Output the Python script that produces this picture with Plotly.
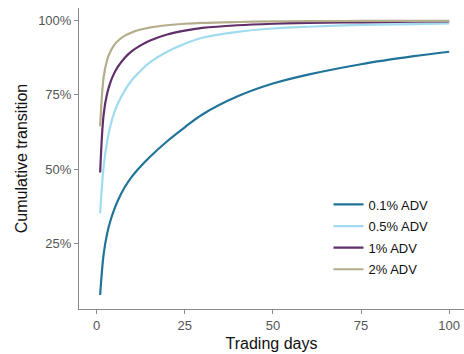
import plotly.graph_objects as go

days = [1, 2, 3, 4, 5, 6, 8, 10, 12, 15, 20, 25, 30, 40, 50, 60, 75, 90, 100]
adv_01 = [7.7, 21.5, 28.5, 33, 36.5, 39.4, 44, 47.5, 50.3, 54, 59.4, 64.1, 68.4, 74.5, 78.8, 81.8, 85.3, 88, 89.5]
adv_05 = [35.2, 51, 59.5, 65, 69, 72, 76.5, 80, 82.5, 85.8, 89.5, 92.2, 94.2, 96.2, 97.3, 97.9, 98.5, 98.8, 99.0]
adv_1 = [48.9, 68.5, 75.5, 79.5, 82.3, 84.4, 87.5, 89.7, 91.3, 93.2, 95.3, 96.6, 97.5, 98.4, 98.9, 99.2, 99.4, 99.6, 99.7]
adv_2 = [64.4, 81, 86.8, 89.8, 91.8, 93.1, 94.9, 96, 96.8, 97.6, 98.4, 98.9, 99.2, 99.5, 99.7, 99.8, 99.85, 99.9, 99.9]

series_names = ["0.1% ADV", "0.5% ADV", "1% ADV", "2% ADV"]
series_values = [adv_01, adv_05, adv_1, adv_2]
colors = ["#21739a", "#a0dbef", "#602e68", "#b4ad8c"]

x_ticks = [0, 25, 50, 75, 100]
y_ticks = [25, 50, 75, 100]
y_tick_labels = ["25%", "50%", "75%", "100%"]

fig = go.Figure()
for name, vals, col in zip(series_names, series_values, colors):
    fig.add_trace(go.Scatter(
        x=days, y=vals, name=name, mode="lines", legendgroup=name,
        line=dict(color=col, width=2.2, shape="spline", smoothing=1.0),
    ))

axis_color = "#8a8a8a"
tick_font = dict(family="Liberation Sans, Arial, sans-serif", size=13, color="#555555")
fig.update_layout(
    width=464, height=354,
    margin=dict(l=79, r=0, t=8, b=45),
    paper_bgcolor="white", plot_bgcolor="white",
    font=dict(family="Liberation Sans, Arial, sans-serif"),
    showlegend=True,
    legend=dict(
        x=0.648, y=0.397, xanchor="left", yanchor="top",
        font=dict(size=13, color="#111111"),
        bgcolor="rgba(0,0,0,0)", tracegroupgap=1.7, itemwidth=30,
    ),
    xaxis=dict(
        range=[-5, 104.2], tickvals=x_ticks, showgrid=False, zeroline=False,
        showline=True, linecolor=axis_color, linewidth=1,
        ticks="outside", ticklen=4, tickcolor=axis_color, tickfont=tick_font,
        title=dict(text="Trading days", font=dict(size=16, color="#111111"), standoff=6),
    ),
    yaxis=dict(
        range=[3.0, 104.2], tickvals=y_ticks, ticktext=y_tick_labels, showgrid=False,
        zeroline=False, showline=True, linecolor=axis_color, linewidth=1,
        ticks="outside", ticklen=4, tickcolor=axis_color, tickfont=tick_font,
        title=dict(text="Cumulative transition", font=dict(size=16, color="#111111"), standoff=6),
    ),
)

fig.write_html("out.html")
